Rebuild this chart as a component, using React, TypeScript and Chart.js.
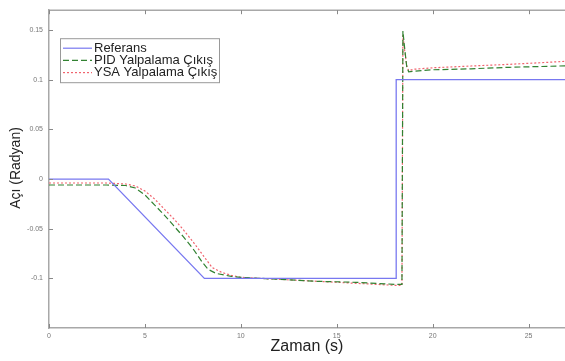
import React, { useEffect, useRef } from "react";
import { Chart, registerables } from "chart.js";

Chart.register(...registerables);

const seriesNames = ["Referans", "PID Yalpalama Çıkış", "YSA Yalpalama Çıkış"];

const refT = [0, 3.1, 8.1, 18.1, 18.1, 27];
const refY = [0, 0, -0.1, -0.1, 0.1, 0.1];

const pidT = [0, 3, 4, 4.5, 5, 5.5, 6, 6.5, 7, 7.5, 8, 8.3, 8.7, 9.5, 10, 12, 14, 16, 18, 18.4, 18.45, 18.55, 18.65, 18.75, 19, 20, 22, 24, 26, 27];
const pidY = [-0.006, -0.006, -0.0065, -0.009, -0.016, -0.026, -0.036, -0.047, -0.058, -0.07, -0.084, -0.091, -0.095, -0.098, -0.099, -0.101, -0.103, -0.104, -0.106, -0.106, 0.149, 0.13, 0.113, 0.108, 0.1085, 0.11, 0.111, 0.1125, 0.1135, 0.114];

const ysaT = [0, 3, 4, 4.5, 5, 5.5, 6, 6.5, 7, 7.5, 8, 8.5, 9, 9.5, 10, 12, 14, 16, 18, 18.4, 18.45, 18.55, 18.65, 18.75, 19, 20, 22, 24, 26, 27];
const ysaY = [-0.004, -0.004, -0.005, -0.007, -0.012, -0.02, -0.03, -0.04, -0.051, -0.063, -0.076, -0.089, -0.094, -0.097, -0.099, -0.101, -0.103, -0.105, -0.107, -0.107, 0.145, 0.128, 0.114, 0.109, 0.1105, 0.112, 0.1138, 0.1155, 0.1175, 0.1186];

const xTicks = [0, 5, 10, 15, 20, 25];
const yTicks = [-0.1, -0.05, 0, 0.05, 0.1, 0.15];

const colors = ["rgb(120,120,240)", "rgb(50,130,50)", "rgb(240,100,110)"];
const dashes = [[], [6, 3], [2, 2]];

const FONT = "'Liberation Sans', Arial, sans-serif";

const pts = (t: number[], y: number[]) => t.map((v, i) => ({ x: v, y: y[i] }));

const decorPlugin = {
  id: "decor",
  afterDraw(chart: any) {
    const { ctx, chartArea } = chart;
    const { left, right, top, bottom } = chartArea;
    const xs = chart.scales.x;
    const ys = chart.scales.y;
    ctx.save();
    // top border
    ctx.strokeStyle = "#a8a8a8";
    ctx.lineWidth = 1.5;
    ctx.beginPath();
    ctx.moveTo(left, top);
    ctx.lineTo(right, top);
    ctx.stroke();
    // inward ticks
    ctx.lineWidth = 1;
    ctx.strokeStyle = "#888";
    ctx.beginPath();
    xTicks.forEach((v) => {
      const px = Math.round(xs.getPixelForValue(v)) + 0.5;
      ctx.moveTo(px, bottom);
      ctx.lineTo(px, bottom - 4);
      ctx.moveTo(px, top);
      ctx.lineTo(px, top + 4);
    });
    yTicks.forEach((v) => {
      const py = Math.round(ys.getPixelForValue(v)) + 0.5;
      ctx.moveTo(left, py);
      ctx.lineTo(left + 4, py);
    });
    ctx.stroke();

    // axis titles
    ctx.fillStyle = "#222";
    ctx.font = `16px ${FONT}`;
    ctx.textAlign = "center";
    ctx.textBaseline = "middle";
    ctx.fillText("Zaman (s)", 307, 347);
    ctx.save();
    ctx.translate(16, 168);
    ctx.rotate(-Math.PI / 2);
    ctx.font = `14px ${FONT}`;
    ctx.fillText("Açı (Radyan)", 0, 0);
    ctx.restore();

    // legend
    const bx = left + 11;
    const by = top + 28;
    const bw = 159;
    const bh = 44;
    ctx.fillStyle = "#fff";
    ctx.fillRect(bx, by, bw, bh);
    ctx.strokeStyle = "#999";
    ctx.lineWidth = 1;
    ctx.strokeRect(bx + 0.5, by + 0.5, bw, bh);
    ctx.font = `13px ${FONT}`;
    ctx.textAlign = "left";
    ctx.textBaseline = "middle";
    seriesNames.forEach((name, i) => {
      const ry = by + 10 + i * 12.2;
      ctx.strokeStyle = colors[i];
      ctx.lineWidth = 1.2;
      ctx.setLineDash(dashes[i]);
      ctx.beginPath();
      ctx.moveTo(bx + 3, ry);
      ctx.lineTo(bx + 32, ry);
      ctx.stroke();
      ctx.setLineDash([]);
      ctx.fillStyle = "#222";
      ctx.fillText(name, bx + 34, ry);
    });
    ctx.restore();
  },
};

export default function App() {
  const ref = useRef<HTMLCanvasElement | null>(null);
  useEffect(() => {
    document.body.style.margin = "0";
    const canvas = ref.current!;
    const chart = new Chart(canvas, {
      type: "line",
      data: {
        datasets: [
          { label: seriesNames[0], data: pts(refT, refY), borderColor: colors[0], borderWidth: 1.3, borderDash: dashes[0], pointRadius: 0, tension: 0 },
          { label: seriesNames[1], data: pts(pidT, pidY), borderColor: colors[1], borderWidth: 1.2, borderDash: dashes[1], pointRadius: 0, tension: 0 },
          { label: seriesNames[2], data: pts(ysaT, ysaY), borderColor: colors[2], borderWidth: 1.2, borderDash: dashes[2], pointRadius: 0, tension: 0 },
        ],
      },
      options: {
        animation: false,
        responsive: false,
        maintainAspectRatio: false,
        layout: { padding: { top: 5, left: 0, right: 0, bottom: 0 } },
        plugins: { legend: { display: false }, tooltip: { enabled: false } },
        scales: {
          x: {
            type: "linear",
            min: 0,
            max: 26.9,
            afterFit: (s: any) => { s.height = 33; },
            afterBuildTicks: (s: any) => { s.ticks = xTicks.map((v) => ({ value: v })); },
            grid: { display: false, drawTicks: false },
            border: { display: true, color: "#a8a8a8", width: 1.5 },
            ticks: { font: { size: 7, family: FONT }, color: "#777", padding: 4, maxRotation: 0, callback: (v: any) => String(v) },
          },
          y: {
            type: "linear",
            min: -0.15,
            max: 0.17,
            afterFit: (s: any) => { s.width = 49; },
            afterBuildTicks: (s: any) => { s.ticks = yTicks.map((v) => ({ value: v })); },
            grid: { display: false, drawTicks: false },
            border: { display: true, color: "#a8a8a8", width: 1.5 },
            ticks: { font: { size: 7, family: FONT }, color: "#777", padding: 6, callback: (v: any) => String(Math.round(v * 100) / 100) },
          },
        },
      },
      plugins: [decorPlugin],
    });
    return () => chart.destroy();
  }, []);
  return <canvas ref={ref} width={565} height={361} style={{ display: "block" }} />;
}
